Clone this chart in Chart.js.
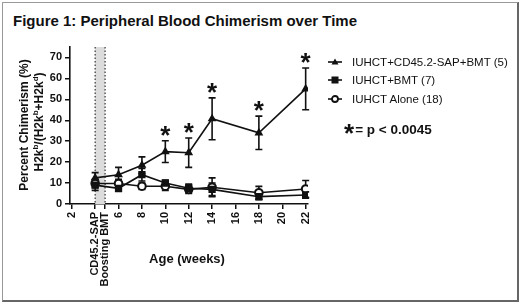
<!DOCTYPE html>
<html>
<head>
<meta charset="utf-8">
<script src="https://cdn.jsdelivr.net/npm/chart.js@4/dist/chart.umd.min.js"></script>
<style>
  html, body { margin: 0; padding: 0; background: #fff; }
  #wrap { position: relative; width: 520px; height: 304px; overflow: hidden; font-family: "Liberation Sans", Arial, sans-serif; }
  #frame { position: absolute; left: 2px; top: 2px; width: 514px; height: 297px; border: 1px solid #999; border-right: 2px solid #666; border-bottom: 2px solid #666; }
  #title { position: absolute; left: 13px; top: 12px; font-weight: bold; font-size: 15px; color: #111; white-space: nowrap; }
  canvas { position: absolute; left: 0; top: 0; }
  .ytitle { position: absolute; transform: translate(-50%, -50%) rotate(-90deg); white-space: nowrap; font-weight: bold; font-size: 12px; color: #111; }
  #xtitle { position: absolute; left: 187px; top: 258px; transform: translate(-50%, -50%); font-weight: bold; font-size: 13px; color: #111; white-space: nowrap; }
  #legend { position: absolute; left: 327px; top: 53px; font-size: 11.5px; color: #111; }
  .lrow { height: 18.3px; display: flex; align-items: center; white-space: nowrap; }
  .lrow svg { margin-right: 9px; }
  #pnote { position: absolute; left: 344px; top: 118px; font-weight: bold; font-size: 13.5px; color: #111; white-space: nowrap; }
  #pnote .ast { font-size: 26px; vertical-align: -8px; margin-right: 1px; }
</style>
</head>
<body>
<div id="wrap">
  <div id="frame"></div>
  <div id="title">Figure 1: Peripheral Blood Chimerism over Time</div>
  <canvas id="c" width="520" height="304"></canvas>
  <div class="ytitle" style="left:24px; top:125px;">Percent Chimerism (%)</div>
  <div class="ytitle" style="left:38px; top:122px;">H2k<sup style="font-size:8px">b</sup>/(H2k<sup style="font-size:8px">b</sup>+H2k<sup style="font-size:8px">d</sup>)</div>
  <div id="xtitle">Age (weeks)</div>
  <div id="legend">
    <div class="lrow"><svg width="16" height="10"><line x1="1" y1="5" x2="15" y2="5" stroke="#111" stroke-width="1.6"/><polygon points="8,1.5 11.5,7.5 4.5,7.5" fill="#111"/></svg>IUHCT+CD45.2-SAP+BMT (5)</div>
    <div class="lrow"><svg width="16" height="10"><line x1="1" y1="5" x2="15" y2="5" stroke="#111" stroke-width="1.6"/><rect x="4.5" y="1.5" width="7" height="7" fill="#111"/></svg>IUHCT+BMT (7)</div>
    <div class="lrow"><svg width="16" height="10"><line x1="1" y1="5" x2="15" y2="5" stroke="#111" stroke-width="1.6"/><circle cx="8" cy="5" r="3" fill="#fff" stroke="#111" stroke-width="1.8"/></svg>IUHCT Alone (18)</div>
  </div>
  <div id="pnote"><span class="ast">*</span>= p &lt; 0.0045</div>
</div>
<script>
// ---- data ----
const weeks = [4, 6, 8, 10, 12, 14, 18, 22];
const sapBmt = [12.5, 14, 18.5, 25, 24.5, 40.7, 34, 55];
const sapBmtErr = [2.5, 3.5, 4, 5.2, 7, 10, 8, 10];
const bmtOnly = [9, 7.5, 14, 10, 7.5, 7, 3.5, 4.3];
const bmtOnlyErr = [2.5, 1.5, 3, 1.5, 2, 3, 1.5, 1.5];
const alone = [9.8, 9.8, 8.5, 8.5, 7, 8, 5.4, 7.2];
const aloneErr = [2, 2, 1.5, 2, 2, 4.5, 3, 4];
const significant = [10, 12, 14, 18, 22];
const xTickValues = [2, 4, 4.85, 6, 8, 10, 12, 14, 16, 18, 20, 22];
const xTickLabels = ['2', 'CD45.2-SAP', 'Boosting BMT', '6', '8', '10', '12', '14', '16', '18', '20', '22'];
const shadedWeeks = [4, 4.85];

const pts = (ys) => weeks.map((w, i) => ({ x: w, y: ys[i] }));
const errs = [sapBmtErr, bmtOnlyErr, aloneErr];

const shadePlugin = {
  id: 'shade',
  beforeDatasetsDraw(chart) {
    const { ctx, chartArea, scales } = chart;
    const x0 = scales.x.getPixelForValue(shadedWeeks[0]);
    const x1 = scales.x.getPixelForValue(shadedWeeks[1]);
    ctx.save();
    ctx.fillStyle = '#dcdcdc';
    ctx.fillRect(x0, chartArea.top, x1 - x0, chartArea.bottom - chartArea.top);
    ctx.strokeStyle = '#333';
    ctx.lineWidth = 1.2;
    ctx.setLineDash([1.5, 2]);
    [x0, x1].forEach(x => {
      ctx.beginPath(); ctx.moveTo(x, chartArea.top); ctx.lineTo(x, chartArea.bottom); ctx.stroke();
    });
    ctx.restore();
    // error bars
    ctx.save();
    ctx.strokeStyle = '#111';
    ctx.lineWidth = 1.6;
    chart.data.datasets.forEach((ds, di) => {
      ds.data.forEach((p, i) => {
        const e = errs[di][i];
        const px = scales.x.getPixelForValue(p.x);
        const yt = scales.y.getPixelForValue(p.y + e);
        const yb = scales.y.getPixelForValue(Math.max(0, p.y - e));
        ctx.beginPath();
        ctx.moveTo(px, yt); ctx.lineTo(px, yb);
        ctx.moveTo(px - 3.5, yt); ctx.lineTo(px + 3.5, yt);
        ctx.moveTo(px - 3.5, yb); ctx.lineTo(px + 3.5, yb);
        ctx.stroke();
      });
    });
    ctx.restore();
  },
  afterDatasetsDraw(chart) {
    const { ctx, scales } = chart;
    ctx.save();
    ctx.fillStyle = '#111';
    ctx.font = 'bold 26px "Liberation Sans", Arial, sans-serif';
    ctx.textAlign = 'center';
    ctx.textBaseline = 'alphabetic';
    const m = ctx.measureText('*');
    const asc = m.actualBoundingBoxAscent, desc = m.actualBoundingBoxDescent;
    significant.forEach(w => {
      const i = weeks.indexOf(w);
      const px = scales.x.getPixelForValue(w);
      const py = scales.y.getPixelForValue(sapBmt[i] + sapBmtErr[i]);
      const center = py - 10;
      ctx.fillText('*', px, center + (asc - desc) / 2);
    });
    ctx.restore();
  }
};

new Chart(document.getElementById('c'), {
  type: 'line',
  data: {
    datasets: [
      { label: 'IUHCT+CD45.2-SAP+BMT (5)', data: pts(sapBmt), borderColor: '#111', backgroundColor: '#111', borderWidth: 1.6, pointStyle: 'triangle', pointRadius: 3.5, tension: 0 },
      { label: 'IUHCT+BMT (7)', data: pts(bmtOnly), borderColor: '#111', backgroundColor: '#111', borderWidth: 1.6, pointStyle: 'rect', pointRadius: 4, tension: 0 },
      { label: 'IUHCT Alone (18)', data: pts(alone), borderColor: '#111', backgroundColor: '#fff', pointBackgroundColor: '#fff', pointBorderWidth: 2, borderWidth: 1.6, pointStyle: 'circle', pointRadius: 3.8, tension: 0 }
    ]
  },
  options: {
    responsive: false,
    animation: false,
    events: [],
    layout: { padding: { left: 0, right: 212, top: 47, bottom: 0 } },
    plugins: { legend: { display: false }, tooltip: { enabled: false } },
    scales: {
      x: {
        type: 'linear', min: 1.85, max: 22.2,
        afterBuildTicks: (s) => { s.ticks = xTickValues.map(v => ({ value: v })); },
        afterFit: (s) => { s.height = 100; },
        ticks: {
          autoSkip: false, minRotation: 90, maxRotation: 90, padding: 3,
          color: '#111', font: { family: '"Liberation Sans", Arial, sans-serif', size: 11, weight: 'bold' },
          callback: (v) => { const i = xTickValues.indexOf(v); return i >= 0 ? xTickLabels[i] : ''; }
        },
        grid: { drawOnChartArea: false, drawTicks: true, tickLength: 5, color: '#111', lineWidth: 1.5 },
        border: { display: true, color: '#111', width: 1.6 }
      },
      y: {
        min: 0, max: 75,
        afterBuildTicks: (s) => { s.ticks = [0, 10, 20, 30, 40, 50, 60, 70].map(v => ({ value: v })); },
        afterFit: (s) => { s.width = 70; },
        ticks: { padding: 3, color: '#111', font: { family: '"Liberation Sans", Arial, sans-serif', size: 11, weight: 'bold' } },
        grid: { drawOnChartArea: false, drawTicks: true, tickLength: 5, color: '#111', lineWidth: 1.5 },
        border: { display: true, color: '#111', width: 1.6 }
      }
    }
  },
  plugins: [shadePlugin]
});
</script>
</body>
</html>
